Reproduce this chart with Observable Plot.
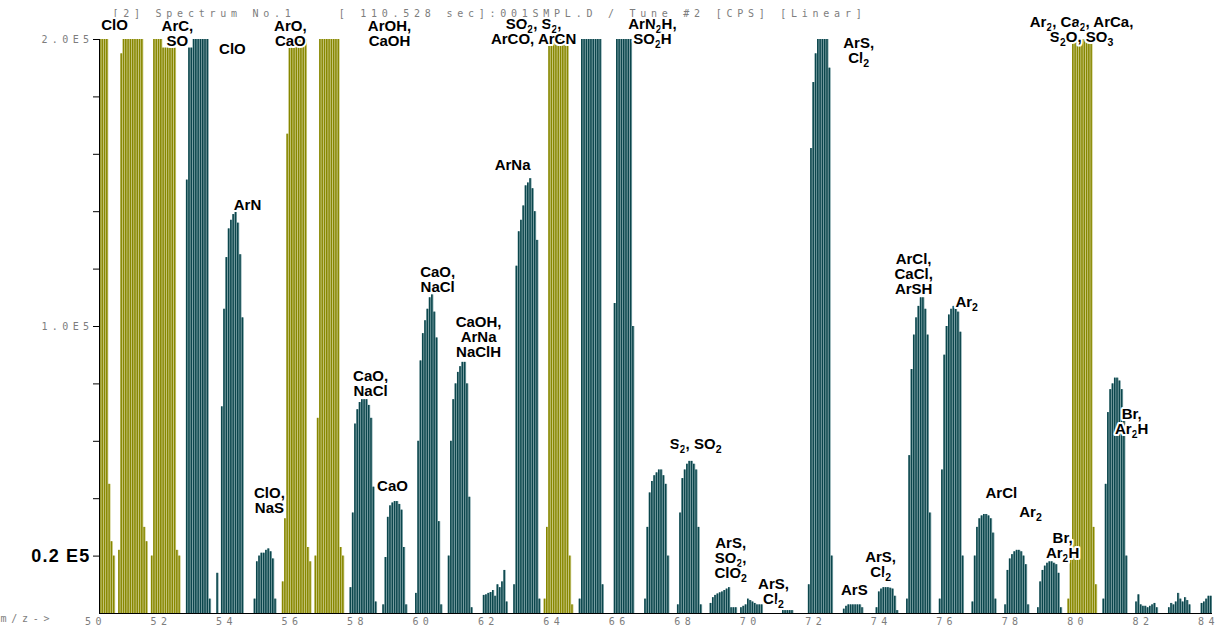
<!DOCTYPE html>
<html>
<head>
<meta charset="utf-8">
<script src="https://cdn.jsdelivr.net/npm/d3@7"></script>
<script src="https://cdn.jsdelivr.net/npm/@observablehq/plot@0.6"></script>
<style>
html, body { margin: 0; padding: 0; background: #fff; }
svg { display: block; }
g[aria-label="x-axis tick label"] text,
g[aria-label="y-axis tick label"] text { letter-spacing: 4.4px; white-space: pre; fill: #7d7d7d; }
text.dot-text { letter-spacing: 4.75px; white-space: pre; }
text.big-label { letter-spacing: 1.2px; }
</style>
</head>
<body>
<div id="chart"></div>
<script>
// ---------------- DATA ----------------
const titleText = "[2] Spectrum No.1    [ 110.528 sec]:001SMPL.D / Tune #2 [CPS] [Linear]";
const xAxisName = "m/z->";

// nominal masses of the peaks (m/z)
const peakMz = [50,51,52,53,54,55,56,57,58,59,60,61,62,63,64,65,66,67,68,69,70,71,72,73,74,75,76,77,78,79,80,81,82,83,84];
// peak group: "blanked" peaks are drawn in olive, the rest in teal
const peakGroup = ["blanked","blanked","blanked","measured","measured","measured","blanked","blanked","measured","measured",
                   "measured","measured","measured","measured","blanked","measured","measured","measured","measured","measured",
                   "measured","measured","measured","measured","measured","measured","measured","measured","measured","measured",
                   "blanked","measured","measured","measured","measured"];
// mass offsets of the acquisition points within each peak (m/z)
const peakCentre = 0.04;
const stickOffsets = [-0.42,-0.35,-0.28,-0.21,-0.14,-0.07,0,0.07,0.14,0.21,0.28,0.35,0.42];
// intensities of each acquisition point, in units of 1E5 cps (display saturates at 2.0E5)
const peakSticks = [
  [2,2,2,2,2,2,2,2,2,2,0.45,0.25,0.2],                         // 50
  [0.22,1.95,2,2,2,2,2,2,2,2,2,0.3,0.25],                      // 51
  [0.2,2,2,2,2,1.97,1.97,1.97,1.97,1.97,1.97,0.22,0.2],        // 52
  [0,1.51,1.97,1.97,2,2,2,2,2,2,2,0.05,0],                     // 53
  [0.14,0,0.72,1.06,1.24,1.34,1.37,1.39,1.4,1.36,1.25,1.03,0], // 54
  [0,0,0.05,0.18,0.2,0.21,0.21,0.22,0.225,0.215,0.19,0.05,0],  // 55
  [0.11,0.33,1.67,2,2,2,2,2,2,2,2,0.23,0.18],                  // 56
  [0.2,0.68,2,2,2,2,2,2,2,2,2,0.23,0.2],                       // 57
  [0,0.09,0.35,0.66,0.71,0.735,0.745,0.745,0.745,0.725,0.68,0.44,0.04], // 58
  [0,0.03,0.195,0.335,0.375,0.385,0.39,0.39,0.38,0.36,0.23,0.03,0],     // 59
  [0,0.07,0.6,0.88,0.975,1.02,1.06,1.1,1.11,1.05,0.96,0.32,0.03],      // 60
  [0,0.2,0.6,0.745,0.8,0.84,0.86,0.875,0.875,0.8,0.405,0.02,0],        // 61
  [0,0,0.063,0.065,0.07,0.073,0.08,0.06,0.1,0.09,0.11,0.15,0.04],      // 62
  [0,0.1,1.21,1.33,1.37,1.42,1.49,1.5,1.515,1.48,1.4,1.3,0.05],        // 63
  [0.05,0.3,2,2,2,2,2,2,2,2,2,0.2,0.03],                       // 64
  [0,0.05,2,2,2,2,2,2,2,2,2,0.1,0],                            // 65
  [0,0,1.08,2,2,2,2,2,2,2,1.0,0,0],                            // 66
  [0,0.05,0.3,0.42,0.46,0.48,0.49,0.5,0.5,0.48,0.45,0.2,0],    // 67
  [0,0.03,0.35,0.47,0.5,0.52,0.53,0.53,0.52,0.5,0.3,0.03,0],   // 68
  [0,0.035,0.055,0.063,0.068,0.072,0.075,0.08,0.085,0.09,0.02,0.02,0.02], // 69
  [0.02,0.025,0.03,0.05,0.045,0.04,0.035,0.03,0.03,0.03,0,0,0],          // 70
  [0,0,0,0,0.01,0.01,0.01,0.01,0.01,0,0,0,0],                  // 71
  [0,0.1,1.62,1.85,1.95,2,2,2,2,2,1.9,0.2,0],                  // 72
  [0,0,0.015,0.025,0.03,0.03,0.03,0.03,0.03,0.03,0.02,0,0],    // 73
  [0,0,0.02,0.075,0.085,0.09,0.09,0.09,0.088,0.085,0.06,0.01,0], // 74
  [0,0.05,0.55,0.85,0.97,1.03,1.07,1.1,1.1,1.06,0.97,0.35,0],  // 75
  [0,0.05,0.5,0.9,1.0,1.04,1.06,1.07,1.07,1.05,0.98,0.2,0],    // 76
  [0,0.04,0.2,0.3,0.33,0.34,0.345,0.345,0.34,0.33,0.28,0.05,0], // 77
  [0,0.03,0.15,0.19,0.205,0.215,0.22,0.22,0.215,0.2,0.17,0.03,0], // 78
  [0,0.02,0.11,0.15,0.165,0.175,0.18,0.18,0.175,0.17,0.14,0.02,0], // 79
  [0.05,0.25,2,2,2,2,2,2,2,2,2,0.3,0.1],                       // 80
  [0,0.05,0.45,0.7,0.78,0.8,0.82,0.82,0.81,0.78,0.7,0.2,0],    // 81
  [0,0.04,0.065,0.03,0.025,0.025,0.02,0.025,0.03,0.035,0.02,0,0], // 82
  [0,0.02,0.035,0.03,0.04,0.07,0.05,0.04,0.055,0.045,0.03,0,0],   // 83
  [0,0.035,0.04,0.05,0.06,0.06,0.05,0.04,0.03,0,0,0,0]            // 84
];

// annotations (interference assignments), placed in data units (m/z, 1E5 cps)
const annLabel = ["ClO","ArC,\nSO","ClO","ArN","ClO,\nNaS","ArO,\nCaO","ArOH,\nCaOH","CaO,\nNaCl","CaO","CaO,\nNaCl",
  "CaOH,\nArNa\nNaClH","ArNa","SO_2, S_2,\nArCO, ArCN","ArN_2H,\nSO_2H","S_2, SO_2","ArS,\nSO_2,\nClO_2","ArS,\nCl_2",
  "ArS,\nCl_2","ArS","ArS,\nCl_2","ArCl,\nCaCl,\nArSH","Ar_2","ArCl","Ar_2","Br,\nAr_2H","Ar_2, Ca_2, ArCa,\nS_2O, SO_3","Br,\nAr_2H"];
const annMz = [50.46,52.38,54.06,54.52,55.19,55.83,58.86,58.28,58.95,60.33,
  61.58,62.62,63.26,66.89,68.21,69.28,70.59,
  73.19,73.06,73.86,74.87,76.49,77.55,78.44,79.42,80.0,81.53];
const annVal = [2.049,2.021,1.965,1.422,0.394,2.021,2.021,0.80,0.4425,1.164,
  0.962,1.561,2.028,2.026,0.589,0.192,0.077,
  1.962,0.080,0.171,1.181,1.084,0.418,0.352,0.235,2.035,0.667];

// axis ticks
const xTickValues = [50,52,54,56,58,60,62,64,66,68,70,72,74,76,78,80,82,84];
const yTickValues = [0.2,0.4,0.6,0.8,1.0,1.2,1.4,1.6,1.8,2.0];
const yTickText = new Map([[2.0, "2.0E5"], [1.0, "1.0E5"]]);
const bigTick = [{v: 0.2, t: "0.2 E5"}];

// ---------------- BUILD ----------------
const sticks = peakMz.flatMap((m, i) => stickOffsets.map((o, j) => ({
  mz: m + peakCentre + o, v: peakSticks[i][j], group: peakGroup[i]
}))).filter(d => d.v > 0);
const blanked = sticks.filter(d => d.group === "blanked");
const measured = sticks.filter(d => d.group === "measured");
const annotations = annLabel.map((label, i) => ({label, mz: annMz[i], v: annVal[i]}));

const OLIVE = "#878700", OLIVE_LIGHT = "#cfcf8c";
const TEAL = "#0b464c", TEAL_LIGHT = "#86a9ad";
const GREY = "#7d7d7d";
const DOT_FONT = "'DejaVu Sans Mono', monospace";
const LABEL_FONT = "'Liberation Sans Narrow', 'Liberation Sans', Arial, sans-serif";
const half = 0.035;

const barMarks = (data, light, dark) => [
  Plot.rectY(data, {x1: d => d.mz - half, x2: d => d.mz + half, y: "v", fill: light, clip: true}),
  Plot.rectY(data, {x1: d => d.mz - half, x2: d => d.mz + half, y: "v", fill: dark, insetRight: 0.8, clip: true})
];

const svg = Plot.plot({
  width: 1217,
  height: 633,
  marginLeft: 99,
  marginRight: 5,
  marginTop: 39,
  marginBottom: 20,
  style: {background: "#fff", fontFamily: LABEL_FONT},
  x: {domain: [50, 84], label: null},
  y: {domain: [0, 2], label: null},
  marks: [
    ...barMarks(blanked, OLIVE_LIGHT, OLIVE),
    ...barMarks(measured, TEAL_LIGHT, TEAL),
    Plot.ruleY([0], {stroke: "#000"}),
    Plot.ruleX([50], {y1: 0, y2: 2, stroke: "#000"}),
    Plot.axisY(yTickValues, {tickSize: 6, tickPadding: 0, label: null, stroke: "#000",
      tickFormat: d => yTickText.get(d) ?? "", fontFamily: DOT_FONT, fontSize: 10}),
    Plot.axisX(xTickValues, {tickSize: 0, tickPadding: 4, label: null, dx: -4,
      tickFormat: d => String(d), fontFamily: DOT_FONT, fontSize: 10}),
    Plot.text(bigTick, {y: "v", text: "t", frameAnchor: "left", dx: -9, textAnchor: "end",
      fontFamily: "'Liberation Sans', Arial, sans-serif", fontWeight: "bold", fontSize: 18, fill: "#000"}),
    Plot.text([titleText], {frameAnchor: "top-left", dx: 13, dy: -30, textAnchor: "start",
      fontFamily: DOT_FONT, fontSize: 10, fill: GREY}),
    Plot.text([xAxisName], {frameAnchor: "bottom-left", dx: -99, dy: 8, textAnchor: "start",
      fontFamily: DOT_FONT, fontSize: 10, fill: GREY}),
    Plot.text(annotations, {x: "mz", y: "v", text: "label", fontFamily: LABEL_FONT, fontWeight: "bold",
      fontSize: 15, lineHeight: 1.0, fill: "#000", stroke: "#fff", strokeWidth: 4})
  ]
});

// letter-spaced "dot-matrix" texts and the big tick label
svg.querySelectorAll("text").forEach(t => {
  const s = t.textContent;
  if (s === titleText || s === xAxisName) t.classList.add("dot-text");
  if (bigTick.some(b => b.t === s)) t.classList.add("big-label");
});

// chemical subscripts: "_2" -> lowered, smaller digit
const SVGNS = "http://www.w3.org/2000/svg";
function subify(el) {
  const s = el.textContent;
  if (!s.includes("_")) return;
  const parts = s.split(/_(\d)/);
  while (el.firstChild) el.removeChild(el.firstChild);
  parts.forEach((p, i) => {
    if (!p) return;
    if (i % 2 === 1) {
      const ts = document.createElementNS(SVGNS, "tspan");
      ts.setAttribute("baseline-shift", "-3.5px");
      ts.setAttribute("font-size", "70%");
      ts.textContent = p;
      el.appendChild(ts);
    } else {
      el.appendChild(document.createTextNode(p));
    }
  });
}
svg.querySelectorAll("text").forEach(t => {
  if (!/_\d/.test(t.textContent)) return;
  const lines = t.querySelectorAll("tspan");
  (lines.length ? [...lines] : [t]).forEach(subify);
});

document.getElementById("chart").appendChild(svg);
</script>
</body>
</html>
